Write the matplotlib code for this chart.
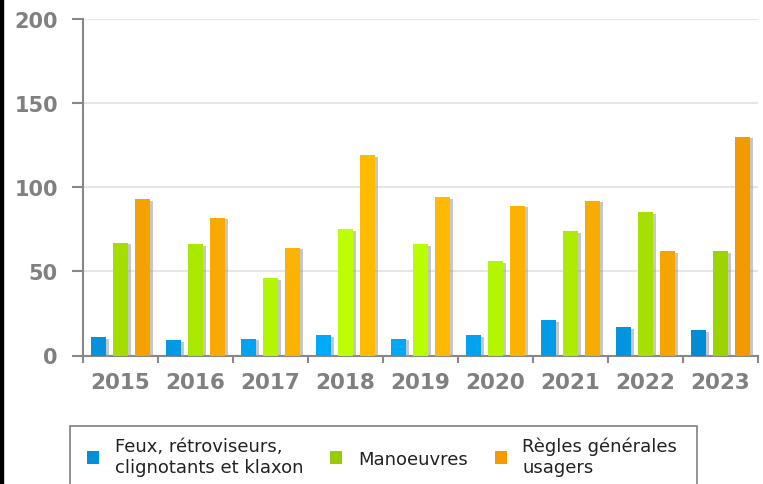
import numpy as np
import matplotlib
matplotlib.use('Agg')
import matplotlib.pyplot as plt
import matplotlib.patheffects as pe
from matplotlib.patches import Patch, Rectangle
from matplotlib.colors import to_rgb

years = ['2015', '2016', '2017', '2018', '2019', '2020', '2021', '2022', '2023']
feux = [11, 9, 10, 12, 10, 12, 21, 17, 15]
manoeuvres = [67, 66, 46, 75, 66, 56, 74, 85, 62]
regles = [93, 82, 64, 119, 94, 89, 92, 62, 130]

labels = ['Feux, rétroviseurs,\nclignotants et klaxon', 'Manoeuvres',
          'Règles générales\nusagers']

# dark / light shade of each series, bars get lighter towards the middle
shades = [('#0485cc', '#00aaf8'), ('#96cc00', '#bcff00'), ('#ef9500', '#ffbb00')]
light = [0.35, 0.55, 0.8, 1.0, 0.95, 0.8, 0.6, 0.4, 0.15]


def mix(c1, c2, t):
    a, b = np.array(to_rgb(c1)), np.array(to_rgb(c2))
    return tuple(a + (b - a) * t)


fig = plt.figure(figsize=(7.63, 4.85), dpi=100)
ax = fig.add_axes([83 / 763, 1 - 356.5 / 485, 675 / 763, 336.5 / 485])

x = np.arange(len(years))
w = 0.21
shadow = [pe.SimplePatchShadow(offset=(1.8, -1.2), shadow_rgbFace='#999999', alpha=0.55), pe.Normal()]
for k, (vals, off) in enumerate([(feux, -0.293), (manoeuvres, 0), (regles, 0.293)]):
    cols = [mix(shades[k][0], shades[k][1], t) for t in light]
    bars = ax.bar(x + off, vals, width=w, color=cols, zorder=3)
    for b in bars:
        b.set_path_effects(shadow)

ax.set_xlim(-0.5, len(years) - 0.5)
ax.set_ylim(0, 200)
ax.set_yticks([0, 50, 100, 150, 200])
ax.set_xticks(x)
ax.set_xticklabels(years)
ax.set_xticks(np.arange(len(years) + 1) - 0.5, minor=True)
ax.tick_params(axis='x', which='major', length=0, pad=12, labelsize=15.5, labelcolor='#808080')
ax.tick_params(axis='x', which='minor', length=5, width=1.5, color='#888888')
ax.tick_params(axis='y', length=8, width=1.5, color='#888888', pad=10, labelsize=15,
               labelcolor='#808080')
for t in ax.get_xticklabels() + ax.get_yticklabels():
    t.set_fontweight('bold')

ax.grid(axis='y', color='#e6e6e6', lw=1.5, zorder=0)
for s in ['top', 'right']:
    ax.spines[s].set_visible(False)
for s in ['left', 'bottom']:
    ax.spines[s].set_color('#888888')
    ax.spines[s].set_linewidth(1.5)
ax.set_axisbelow(True)

handles = [Patch(facecolor=c, edgecolor='none') for c in ['#0090d8', '#99cc00', '#f49b00']]
leg = fig.legend(handles, labels, loc='upper left', bbox_to_anchor=(87 / 763, 1 - 438 / 485),
                 ncol=3, fontsize=13, frameon=False, borderaxespad=0, borderpad=0,
                 handlelength=0.68, handleheight=0.68, handletextpad=0.85,
                 columnspacing=1.5, labelspacing=0.3)
for t in leg.get_texts():
    t.set_color('#222222')

# legend frame, runs past the bottom edge of the picture
fig.add_artist(Rectangle((70 / 763, -0.05), 627 / 763, 0.05 + (485 - 427) / 485,
                         transform=fig.transFigure, facecolor='none',
                         edgecolor='#808080', lw=1.2))
fig.add_artist(Rectangle((0, 0), 2.5 / 763, 1, transform=fig.transFigure, color='black'))

fig.savefig('out.png', dpi=100)
